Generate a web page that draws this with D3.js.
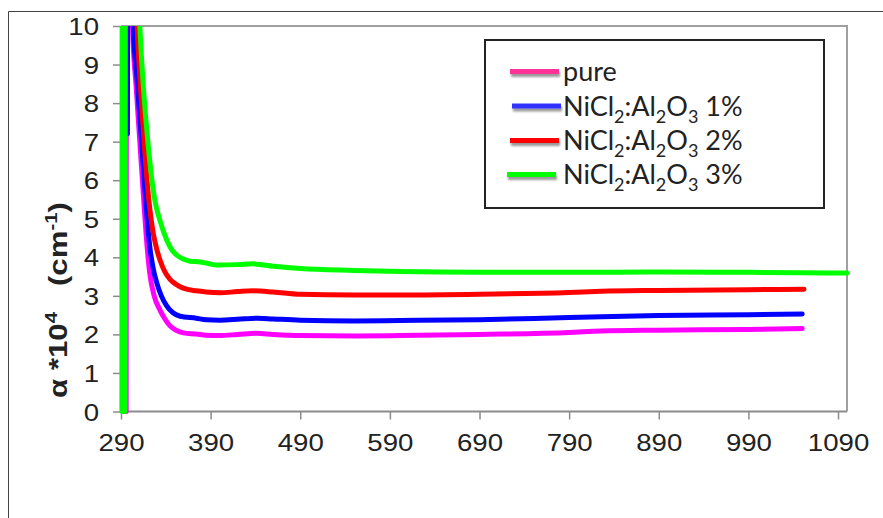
<!DOCTYPE html>
<html>
<head>
<meta charset="utf-8">
<script src="https://cdn.jsdelivr.net/npm/d3@7"></script>
<style>
  html, body { margin: 0; padding: 0; background: #fff; }
  svg { display: block; }
</style>
</head>
<body>
<svg id="chart" width="883" height="518"></svg>
<script>
// ---------------- data ----------------
const xTicks = [290, 390, 490, 590, 690, 790, 890, 990, 1090];
const yTicks = [0, 1, 2, 3, 4, 5, 6, 7, 8, 9, 10];

const seriesNames = ["pure", "1%", "2%", "3%"];

const pureX = [295.8, 296.2, 300, 302.8, 307, 311, 315, 318, 322, 327, 333.5, 339, 344.7, 352, 359.5, 374, 385, 400, 420, 441, 460, 490, 550, 601, 690, 790, 826, 890, 990, 1050];
const pureY = [0, 14, 13, 10, 8.4, 7.0, 5.6, 4.6, 3.6, 3.0, 2.63, 2.4, 2.22, 2.1, 2.04, 2.01, 1.98, 1.97, 2.0, 2.03, 2.0, 1.97, 1.96, 1.97, 2.0, 2.05, 2.09, 2.11, 2.13, 2.15];

const oneX = [297.2, 297.5, 301, 303.7, 308, 313, 318, 322, 326, 330, 335, 341, 348, 356, 374, 385, 400, 420, 441, 460, 490, 550, 601, 690, 790, 826, 890, 990, 1050];
const oneY = [7.2, 14, 13, 10, 8.6, 7.0, 5.35, 4.3, 3.7, 3.33, 3.0, 2.74, 2.56, 2.47, 2.42, 2.38, 2.37, 2.39, 2.42, 2.4, 2.37, 2.35, 2.36, 2.38, 2.44, 2.46, 2.49, 2.51, 2.53];

const twoX = [293.5, 294, 303, 308, 312, 315.7, 321, 326, 330, 333.5, 339, 344.7, 352, 359.5, 374, 385, 400.5, 420, 437, 460, 490, 550, 601, 690, 790, 826, 890, 990, 1052];
const twoY = [0, 14, 14, 10, 8.3, 7.0, 5.5, 4.62, 4.2, 3.93, 3.62, 3.43, 3.29, 3.2, 3.13, 3.1, 3.08, 3.11, 3.13, 3.1, 3.04, 3.02, 3.02, 3.04, 3.09, 3.12, 3.14, 3.16, 3.17];

const threeX = [291, 291.5, 294.5, 295, 305, 311, 315, 320, 324, 328, 333.5, 341, 346, 352, 360, 367, 378, 387, 397, 420, 437, 460, 490, 550, 601, 690, 790, 890, 990, 1050, 1100];
const threeY = [0, 14, 0, 14, 14, 10, 8.4, 7.0, 6.1, 5.45, 4.95, 4.45, 4.22, 4.06, 3.95, 3.9, 3.88, 3.84, 3.80, 3.81, 3.83, 3.77, 3.71, 3.66, 3.63, 3.61, 3.61, 3.62, 3.61, 3.6, 3.59];

// ---------------- drawing ----------------
const svg = d3.select("#chart");
const W = 883, H = 518;
const plot = { left: 121, right: 847, top: 26, bottom: 411.5 };

const x = d3.scaleLinear().domain([290, 1100]).range([plot.left, plot.right]);
const y = d3.scaleLinear().domain([0, 10]).range([plot.bottom, plot.top]);

const lineColors = ["#ff00ff", "#0000ff", "#ff0000", "#00ff00"];
const legendColors = ["#ff3399", "#3333ff", "#ff0000", "#00ff00"];

// outer chart frame
svg.append("line").attr("x1", 8.5).attr("x2", W).attr("y1", 11.5).attr("y2", 11.5)
  .attr("stroke", "#444").attr("stroke-width", 1);
svg.append("line").attr("x1", 8.5).attr("x2", 8.5).attr("y1", 11.5).attr("y2", H)
  .attr("stroke", "#444").attr("stroke-width", 1);

// plot area border (top, right)
svg.append("path")
  .attr("d", `M${plot.left},${plot.top}H${plot.right}V${plot.bottom}`)
  .attr("fill", "none").attr("stroke", "#a0a0a0").attr("stroke-width", 2);

const tickFont = "'Liberation Sans', Arial, sans-serif";
const sx = 1.2;

// x axis
const xAxis = svg.append("g").attr("transform", `translate(0,${plot.bottom})`)
  .call(d3.axisBottom(x).tickValues(xTicks).tickSize(8).tickPadding(0).tickFormat(d3.format("d")));
xAxis.select(".domain").attr("stroke", "#8c8c8c").attr("stroke-width", 2)
  .attr("d", `M${plot.left},0H${plot.right}`);
xAxis.selectAll(".tick line").attr("stroke", "#8c8c8c").attr("stroke-width", 1.5);
xAxis.selectAll(".tick text")
  .attr("font-family", tickFont).attr("font-size", 23).attr("fill", "#222")
  .attr("y", 0).attr("dy", 0)
  .attr("transform", `translate(0,39.5) scale(${sx},1)`);

// y axis
const yAxis = svg.append("g").attr("transform", `translate(${plot.left},0)`)
  .call(d3.axisLeft(y).tickValues(yTicks).tickSize(8).tickPadding(0));
yAxis.select(".domain").attr("stroke", "#8c8c8c").attr("stroke-width", 2)
  .attr("d", `M0,${plot.top}V${plot.bottom}`);
yAxis.selectAll(".tick line").attr("stroke", "#8c8c8c").attr("stroke-width", 1.5);
yAxis.selectAll(".tick text")
  .attr("font-family", tickFont).attr("font-size", 23).attr("fill", "#222")
  .attr("x", 0).attr("dy", 0).attr("text-anchor", "end")
  .attr("transform", `translate(-22,8.5) scale(${sx},1)`);

// y axis title
const yt = svg.append("text")
  .attr("font-family", tickFont).attr("font-weight", "bold").attr("font-size", 26)
  .attr("fill", "#222").attr("text-anchor", "middle");
yt.append("tspan").text("α *10");
yt.append("tspan").attr("font-size", 17).attr("dy", -10).text("4");
yt.append("tspan").attr("dy", 10).text("\u00a0\u00a0\u00a0(cm");
yt.append("tspan").attr("font-size", 17).attr("dy", -10).text("-1");
yt.append("tspan").attr("dy", 10).text(")");
const ytLen = yt.node().getComputedTextLength();
const ytScale = 196 / ytLen;
yt.attr("transform", `translate(67,300) rotate(-90) scale(${ytScale},1)`);

// lines
const seriesXs = [pureX, oneX, twoX, threeX];
const seriesYs = [pureY, oneY, twoY, threeY];
const seriesData = seriesXs.map((xs, i) => xs.map((v, j) => [v, seriesYs[i][j]]));

svg.append("clipPath").attr("id", "clip")
  .append("rect").attr("x", 0).attr("y", plot.top).attr("width", W).attr("height", H - plot.top);

const line = d3.line().x(d => x(d[0])).y(d => y(d[1])).curve(d3.curveMonotoneX);

svg.append("g").attr("clip-path", "url(#clip)")
  .selectAll("path").data(seriesData).join("path")
  .attr("d", line)
  .attr("fill", "none")
  .attr("stroke", (d, i) => lineColors[i])
  .attr("stroke-width", 5)
  .attr("stroke-linecap", "round")
  .attr("stroke-linejoin", "round");

// legend
const defs = svg.append("defs");
const f = defs.append("filter").attr("id", "shadow")
  .attr("filterUnits", "userSpaceOnUse")
  .attr("x", 480).attr("y", 40).attr("width", 120).attr("height", 170);
f.append("feGaussianBlur").attr("in", "SourceAlpha").attr("stdDeviation", 1.3).attr("result", "b");
f.append("feOffset").attr("in", "b").attr("dx", 1).attr("dy", 3).attr("result", "o");
f.append("feComponentTransfer").attr("in", "o").attr("result", "s")
  .append("feFuncA").attr("type", "linear").attr("slope", 0.4);
const fm = f.append("feMerge");
fm.append("feMergeNode").attr("in", "s");
fm.append("feMergeNode").attr("in", "SourceGraphic");

const lg = svg.append("g");
lg.append("rect").attr("x", 485).attr("y", 40).attr("width", 339).attr("height", 168)
  .attr("fill", "#fff").attr("stroke", "#222").attr("stroke-width", 2);

const legRowY = [71.5, 106, 140.5, 174.5];
const legX1 = [510, 512, 510, 507];
const legFont = "Lato, 'Open Sans', sans-serif";
const pctLabels = ["1%", "2%", "3%"];

seriesNames.forEach((name, i) => {
  const yy = legRowY[i];
  lg.append("rect")
    .attr("x", legX1[i]).attr("width", 49)
    .attr("y", yy - 2.5).attr("height", 5)
    .attr("fill", legendColors[i])
    .attr("filter", "url(#shadow)");
  const t = lg.append("text").attr("x", 563).attr("y", yy + 9.5)
    .attr("font-family", legFont).attr("font-size", 27).attr("fill", "#222");
  if (i === 0) {
    t.text("pure");
  } else {
    t.append("tspan").text("NiCl");
    t.append("tspan").attr("font-size", 18).attr("dy", 7).text("2");
    t.append("tspan").attr("dy", -7).text(":Al");
    t.append("tspan").attr("font-size", 18).attr("dy", 7).text("2");
    t.append("tspan").attr("dy", -7).text("O");
    t.append("tspan").attr("font-size", 18).attr("dy", 7).text("3");
    t.append("tspan").attr("dy", -7).text("\u00a0" + pctLabels[i - 1]);
  }
});
</script>
</body>
</html>
